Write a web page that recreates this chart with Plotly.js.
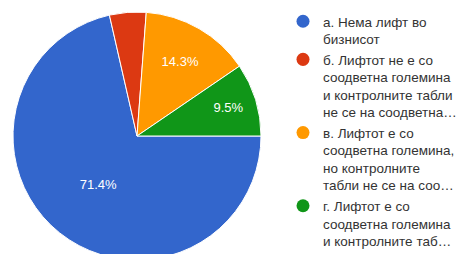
<!DOCTYPE html>
<html><head><meta charset="utf-8">
<script src="https://cdn.plot.ly/plotly-3.0.1.min.js"></script>
<style>html,body{margin:0;padding:0;overflow:hidden;background:#fff;width:462px;height:254px}</style>
</head><body>
<div id="chart" style="width:462px;height:262px"></div>
<script>
const labels = [
  "а. Нема лифт во<br>бизнисот",
  "б. Лифтот не е со<br>соодветна големина<br>и контролните табли<br>не се на соодветна…",
  "в. Лифтот е со<br>соодветна големина,<br>но контролните<br>табли не се на соо…",
  "г. Лифтот е со<br>соодветна големина<br>и контролните таб…"
];
const counts = [15, 1, 3, 2];
const colors = ["#3366cc", "#dc3912", "#ff9900", "#109618"];
const showText = [true, false, true, true];

const W = 462, H = 262;
const pie = {
  type: "pie",
  values: counts,
  labels: labels,
  sort: false,
  direction: "clockwise",
  rotation: 90,
  marker: {colors: colors, line: {color: "#ffffff", width: 1}},
  texttemplate: showText.map(s => s ? "%{percent:.1%}" : ""),
  textposition: "inside",
  insidetextorientation: "horizontal",
  textfont: {family: "'Liberation Sans', Arial, sans-serif", size: 13, color: "#ffffff"},
  hoverinfo: "none",
  showlegend: false,
  domain: {x: [13 / W, 261 / W], y: [(H - 260) / H, (H - 12) / H]}
};
const legendTraces = labels.map((l, i) => ({
  type: "scatter", mode: "markers", x: [null], y: [null],
  name: l, marker: {color: colors[i], size: 13, symbol: "circle"},
  showlegend: true, hoverinfo: "none"
}));

Plotly.newPlot("chart", [pie, ...legendTraces], {
  width: W, height: H,
  margin: {l: 0, r: 0, t: 0, b: 0, pad: 0},
  paper_bgcolor: "#ffffff", plot_bgcolor: "#ffffff",
  xaxis: {visible: false, domain: [0.99, 1]},
  yaxis: {visible: false, domain: [0.99, 1]},
  showlegend: true,
  legend: {
    x: 283 / W, xanchor: "left", y: 1 - 6 / H, yanchor: "top",
    valign: "top",
    font: {family: "'Liberation Sans', Arial, sans-serif", size: 13.5, color: "#333333"},
    bgcolor: "rgba(0,0,0,0)", borderwidth: 0, itemclick: false, itemdoubleclick: false
  }
}, {staticPlot: true, displayModeBar: false});
</script>
</body></html>
